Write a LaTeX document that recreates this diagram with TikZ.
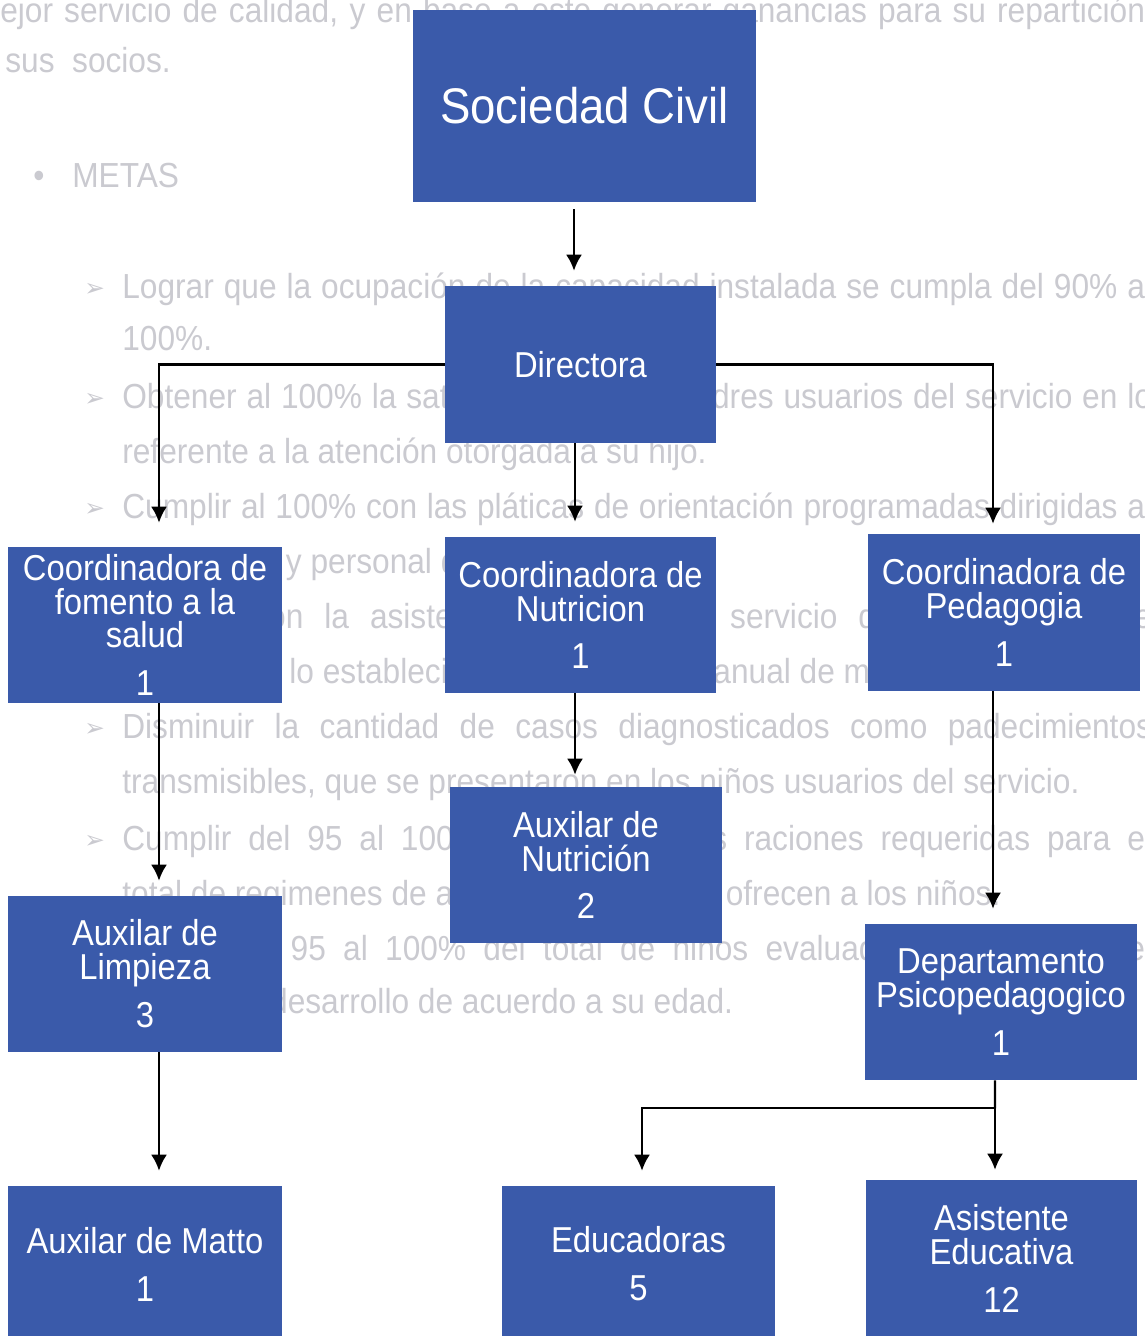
\documentclass[tikz,border=0pt]{standalone}
\usepackage{fontspec}
\setmainfont{Liberation Sans}
\newfontfamily\chartfont[FakeStretch=0.91]{Liberation Sans}
\newfontfamily\symfont{DejaVu Sans}
\usetikzlibrary{arrows.meta,calc}
\definecolor{boxblue}{RGB}{58,90,170}
\definecolor{pagetext}{RGB}{202,202,208}
\tikzset{
  orgbox/.style={fill=boxblue, text=white, align=center, inner sep=0pt,
    minimum width=5.44cm, minimum height=3.12cm,
    font=\chartfont\fontsize{20.5}{19.3}\selectfont},
  link/.style={line width=1.2pt},
  arr/.style={link, -{Latex[length=0.32cm,width=0.32cm]}, shorten >=0.3cm},
  pageline/.style={anchor=base west, text=pagetext, inner sep=0pt,
    font=\chartfont\fontsize{19.8}{22}\selectfont},
  pagemark/.style={anchor=base west, text=pagetext, inner sep=0pt,
    font=\symfont\fontsize{14}{14}\selectfont},
}

\begin{document}
\begin{tikzpicture}[x=0.02cm,y=-0.02cm]

\useasboundingbox (0,0) rectangle (1145,1336);
\clip (0,0) rectangle (1145,1336);
\fill[white] (0,0) rectangle (1145,1336);

%text of the page underneath
\node[pageline] (t0) at (0,22) {\makebox[22.9cm][s]{ejor servicio de calidad, y en base a este generar ganancias para su repartición}};
\node[pageline] (t1) at (5,72) {sus \ socios.};
\node[pageline] (m0) at (33,187) {•};
\node[pageline] (t2) at (72,187) {METAS};

\node[pagemark] (b1) at (84,296) {➢};
\node[pageline] (t3) at (122,298) {\makebox[20.6cm][s]{Lograr que la ocupación de la capacidad instalada se cumpla del 90\% al}};
\node[pageline] (t4) at (122,350) {100\%.};
\node[pagemark] (b2) at (84,406) {➢};
\node[pageline] (t5) at (122,408) {\makebox[20.6cm][s]{Obtener al 100\% la satisfacción de los padres usuarios del servicio en lo}};
\node[pageline] (t6) at (122,463) {referente a la atención otorgada a su hijo.};
\node[pagemark] (b3) at (84,516) {➢};
\node[pageline] (t7) at (122,518) {\makebox[20.6cm][s]{Cumplir al 100\% con las pláticas de orientación programadas dirigidas al}};
\node[pageline] (t8) at (122,573) {sus padres y personal de la estancia.};
\node[pageline] (t9) at (122,628) {\makebox[20.6cm][s]{Cumplir con la asistencia de niños al servicio de la guardería de}};
\node[pageline] (t10) at (122,683) {conforme a lo establecido en el programa anual de metas.};
\node[pagemark] (b4) at (84,736) {➢};
\node[pageline] (t11) at (122,738) {\makebox[20.6cm][s]{Disminuir la cantidad de casos diagnosticados como padecimientos}};
\node[pageline] (t12) at (122,793) {transmisibles, que se presentaron en los niños usuarios del servicio.};
\node[pagemark] (b5) at (84,848) {➢};
\node[pageline] (t13) at (122,850) {\makebox[20.6cm][s]{Cumplir del 95 al 100\% del total de las raciones requeridas para el}};
\node[pageline] (t14) at (122,905) {total de regimenes de alimentación que se ofrecen a los niños.};
\node[pageline] (t15) at (122,960) {\makebox[20.6cm][s]{Lograr del 95 al 100\% del total de niños evaluados que cuenten el}};
\node[pageline] (t16) at (122,1013) {adecuado desarrollo de acuerdo a su edad.};

%boxes
\node[orgbox, minimum width=6.86cm, minimum height=3.84cm,
  font=\chartfont\fontsize{28.5}{30}\selectfont] (soc) at (584.5,106) {Sociedad Civil};
\node[orgbox, minimum width=5.42cm, minimum height=3.14cm] (dir) at (580.5,364.5) {Directora};

\node[orgbox, minimum width=5.48cm] (fom) at (145,625) {Coordinadora de\\fomento a la\\salud\\[8pt]1};
\node[orgbox, minimum width=5.42cm] (nut) at (580.5,615) {Coordinadora de\\Nutricion\\[8pt]1};
\node[orgbox, minimum height=3.14cm] (ped) at (1004,612.5) {Coordinadora de\\Pedagogia\\[8pt]1};

\node[orgbox] (auxnut) at (586,865) {Auxilar de\\Nutrición\\[8pt]2};
\node[orgbox, minimum width=5.48cm] (limp) at (145,974) {Auxilar de\\Limpieza\\[8pt]3};
\node[orgbox] (depto) at (1001,1002) {Departamento\\Psicopedagogico\\[8pt]1};

\node[orgbox, minimum width=5.48cm] (matto) at (145,1264) {Auxilar de Matto\\[8pt]1};
\node[orgbox, minimum width=5.46cm] (edu) at (638.5,1264) {Educadoras\\[8pt]5};
\node[orgbox, minimum width=5.42cm] (asis) at (1001.5,1258) {Asistente\\Educativa\\[8pt]12};

%connectors
\draw[arr, shorten <=0.14cm] ([xshift=-0.21cm]soc.south) -- ([xshift=-0.21cm]soc.south |- dir.north);

\draw[arr, shorten >=0.48cm] (dir.west) -| ([xshift=0.28cm]fom.north);
\draw[arr, shorten >=0.2cm] (dir.east) -| ([xshift=-0.22cm]ped.north);
\draw[arr] ([xshift=-0.11cm]dir.south) -- ([xshift=-0.11cm]dir.south |- nut.north);

\draw[arr] ([xshift=0.28cm]fom.south) -- ([xshift=0.28cm]fom.south |- limp.north);
\draw[arr, shorten >=0.24cm] ([xshift=-0.11cm]nut.south) -- ([xshift=-0.11cm]nut.south |- auxnut.north);
\draw[arr] ([xshift=-0.22cm]ped.south) -- ([xshift=-0.22cm]ped.south |- depto.north);
\draw[arr] ([xshift=0.28cm]limp.south) -- ([xshift=0.28cm]limp.south |- matto.north);

%split under the department
\coordinate (fork) at ($(depto.south)+(-6,28)$);
\draw[link] ([xshift=-0.12cm]depto.south) -- (fork);
\draw[arr] (fork) -| ([xshift=0.07cm]edu.north);
\draw[arr, shorten >=0.2cm] (fork) -- (fork |- asis.north);

\end{tikzpicture}
\end{document}
